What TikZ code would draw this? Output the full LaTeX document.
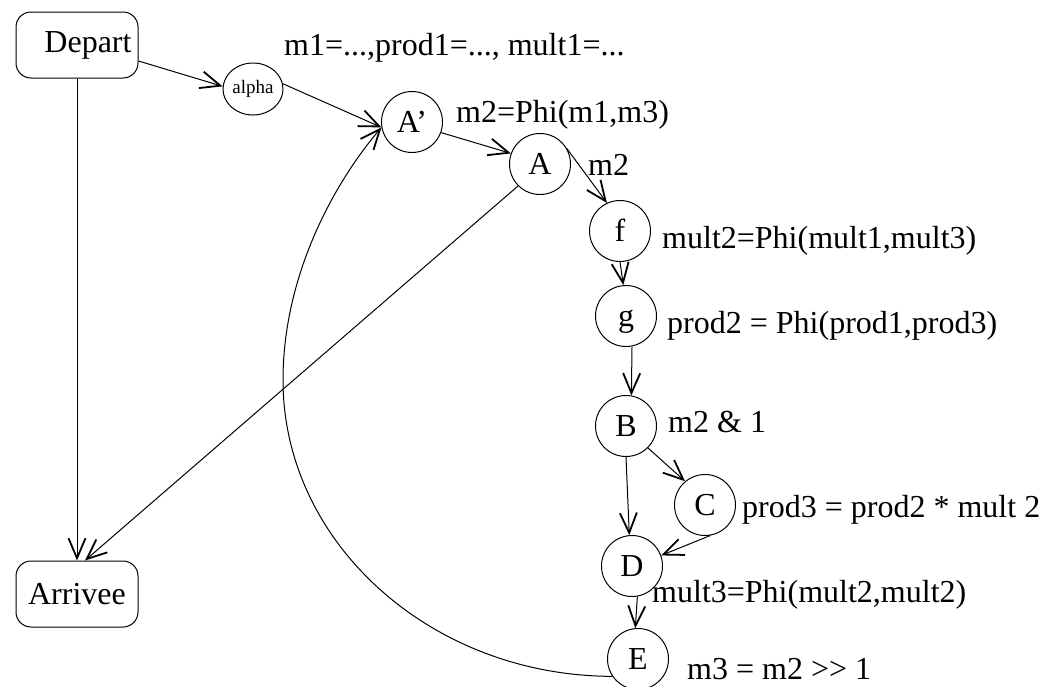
\documentclass[tikz,border=0pt]{standalone}
\usepackage{fontspec}
\setmainfont{Liberation Serif}
\usetikzlibrary{arrows.meta,shapes.geometric}
\begin{document}
\begin{tikzpicture}[x=1pt,y=-1pt,
  every node/.style={font=\fontsize{32}{36}\selectfont, inner sep=0pt},
  box/.style={draw, line width=1pt, rounded corners=15pt, minimum width=122pt, minimum height=66pt},
  st/.style={draw, circle, line width=1pt, minimum size=61pt, text height=21pt, text depth=0pt},
  lbl/.style={anchor=base west},
  arr/.style={line width=1pt, -{Straight Barb[length=20pt,width=17pt,line width=1.8pt]}},
  ln/.style={line width=1pt}]
\useasboundingbox (0,0) rectangle (1057,686);
% nodes
\node[box] (Depart) at (77,45) {\hspace*{22pt}Depart};
\node[box] (Arrivee) at (77,594) {Arrivee};
\node[draw, ellipse, line width=1pt, minimum width=60pt, minimum height=52pt, font=\fontsize{19}{22}\selectfont] (alpha) at (253,89) {alpha};
\node[st] (Ap) at (412,122) {A’};
\node[st] (A) at (540,164) {A};
\node[st] (f) at (620,231) {f};
\node[st] (g) at (626,316) {g};
\node[st] (B) at (626,426) {B};
\node[st] (C) at (705,505) {C};
\node[st] (D) at (632,566) {D};
\node[st] (E) at (638,659) {E};
% labels
\node[lbl] (l1) at (284,55) {m1=...,prod1=..., mult1=...};
\node[lbl] (l2) at (456,122) {m2=Phi(m1,m3)};
\node[lbl] (l3) at (588,175) {m2};
\node[lbl] (l4) at (662,248) {mult2=Phi(mult1,mult3)};
\node[lbl] (l5) at (667,333) {prod2 = Phi(prod1,prod3)};
\node[lbl] (l6) at (668,432) {m2 \& 1};
\node[lbl] (l7) at (742,517) {prod3 = prod2 * mult 2};
\node[lbl] (l8) at (652,602) {mult3=Phi(mult2,mult2)};
\node[lbl] (l9) at (687,679) {m3 = m2 {>}{>} 1};
% edges
\draw[arr] ([yshift=-16pt]Depart.east) -- (alpha.175);
\draw[arr] (alpha.10) -- (Ap.190);
\draw[arr] (Ap.-20) -- (A.160);
\draw[arr] (A.30) -- (f.115);
\draw[arr] (f.south) -- (g.95);
\draw[arr] ([xshift=6pt]g.south) -- (B.80);
\draw[arr] (B.-45) -- (C.130);
\draw[arr] (B.south) -- (D.95);
\draw[arr] (C.-80) -- (D.20);
\draw[arr] (D.-80) -- (E.95);
\draw[arr] (Depart.south) -- (Arrivee.north);
\draw[arr] (A.-135) -- ([xshift=8pt]Arrivee.north);
\draw[arr] (E.214) .. controls (431,676) and (283,543) .. (283,380)
  .. controls (283,280) and (330,188) .. (Ap.190);
\end{tikzpicture}
\end{document}
